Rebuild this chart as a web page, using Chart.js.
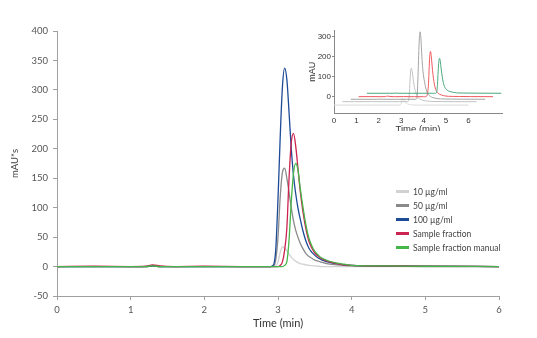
<!DOCTYPE html>
<html lang="en">
<head>
<meta charset="UTF-8">
<title>Chromatogram</title>
<script src="https://cdn.jsdelivr.net/npm/chart.js"></script>
<style>
    body { margin: 0; background: #fff; font-family: 'Lato', sans-serif; }
    .wrap { position: relative; width: 537px; height: 338px; }
    #main { position: absolute; left: 0; top: 0; }
    .inset { position: absolute; left: 300px; top: 20px; width: 210px; height: 111px; overflow: hidden; }
    .legend { position: absolute; left: 396px; top: 186px; font-size: 8.5px; color: #444; }
    .legend div { height: 14px; line-height: 12px; white-space: nowrap; }
    .legend span { display: inline-block; width: 13px; height: 3px; vertical-align: middle; margin-right: 4px; position: relative; top: -1px; }
</style>
</head>
<body>
<div class="wrap">
    <canvas id="main" width="537" height="338"></canvas>
    <div class="inset"><canvas id="ins" width="210" height="125"></canvas></div>
    <div class="legend" id="legend"></div>
</div>
<script>
// retention time (min)
const time = [0, 0.5, 1.0, 1.2, 1.3, 1.4, 1.6, 2.0, 2.5, 2.9,
    2.94, 2.97, 3.0, 3.03, 3.06, 3.09, 3.12, 3.15, 3.18, 3.21,
    3.24, 3.27, 3.3, 3.34, 3.38, 3.42, 3.46, 3.5, 3.55, 3.6,
    3.7, 3.8, 3.9, 4.0, 4.5, 5.0, 6.0];

const c10 = [0, 0, 0, 0, 0.5, 0, 0, 0, 0, 0,
    0, 2, 8, 24, 34, 31, 27, 21, 16, 12,
    9, 7, 5, 4, 3, 2, 1.5, 1, 0.5, 0,
    0, 0, 0, 0, 0, 0, 0];
const c50 = [0, 0, 0, 0, 1, 0, 0, 0, 0, 0,
    1, 12, 50, 118, 160, 167, 150, 126, 100, 78,
    62, 50, 40, 30, 22, 17, 14, 11, 9, 7,
    4, 3, 2, 1, 0.5, 0, 0];
const c100 = [0, 0, 0, 0, 1, 0, 0, 0, 0, 0,
    3, 30, 115, 220, 305, 337, 318, 262, 200, 155,
    124, 100, 82, 60, 43, 31, 24, 19, 14, 11,
    7, 5, 3, 2, 1, 0.5, 0];
const sample = [0, 0.5, 0, 0.5, 3, 1, 0, 0.5, 0, 0,
    0, 0, 0, 2, 8, 28, 65, 150, 210, 226,
    205, 168, 130, 92, 63, 43, 31, 23, 17, 13,
    8, 5, 3, 2, 1, 0.5, 0];
const manual = [0, 0, 0, 0, 1, 0, 0, 0, 0, 0,
    0, 0, 0, 0, 0, 2, 8, 45, 110, 158,
    175, 165, 135, 100, 70, 48, 35, 26, 19, 14,
    9, 6, 4, 2, 1, 0.5, 0];

const names = ['10 µg/ml', '50 µg/ml', '100 µg/ml', 'Sample fraction', 'Sample fraction manual'];
const series = [c10, c50, c100, sample, manual];
const colors = ['#d2d2d2', '#8a8a8a', '#1d4b95', '#cc2450', '#45b649'];

// inset: stacked (waterfall) view, offsets in minutes / mAU
const insetShiftX = [0, 0.37, 0.75, 1.1, 1.47];
const insetShiftY = [-42, -25, -13, 0, 17];
const insetColors = ['#dadada', '#c2c2c2', '#a4a4a4', '#ee5a5e', '#4aa97e'];

const yTicks = [-50, 0, 50, 100, 150, 200, 250, 300, 350, 400];
const xTicks = [0, 1, 2, 3, 4, 5, 6];
const insetYTicks = [0, 100, 200, 300];

const axisGrey = '#a0a0a0';

new Chart(document.getElementById('main'), {
    type: 'line',
    data: {
        datasets: series.map((s, i) => ({
            label: names[i],
            data: time.map((t, k) => ({ x: t, y: s[k] })),
            borderColor: colors[i],
            borderWidth: 1.3,
            pointRadius: 0,
            cubicInterpolationMode: 'monotone',
            order: series.length - i
        }))
    },
    options: {
        responsive: false,
        animation: false,
        layout: { padding: { left: 0, top: 31, right: 38, bottom: 0 } },
        plugins: { legend: { display: false }, tooltip: { enabled: false } },
        scales: {
            x: {
                type: 'linear', min: 0, max: 6,
                afterBuildTicks: s => { s.ticks = xTicks.map(v => ({ value: v })); },
                afterFit: s => { s.height = 42; },
                grid: { drawOnChartArea: false, tickLength: 4, color: axisGrey },
                border: { color: axisGrey },
                ticks: { padding: 4, color: '#555', font: { family: 'Lato', size: 9.5 } },
                title: { display: true, text: 'Time (min)', color: '#333', padding: { top: 0, bottom: 8 }, font: { family: 'Lato', size: 11 } }
            },
            y: {
                min: -50, max: 400,
                afterBuildTicks: s => { s.ticks = yTicks.map(v => ({ value: v })); },
                afterFit: s => { s.width = 57; },
                grid: { drawOnChartArea: false, tickLength: 4, color: axisGrey },
                border: { color: axisGrey },
                ticks: { padding: 5, color: '#555', font: { family: 'Lato', size: 9.5 } },
                title: { display: true, text: 'mAU*s', color: '#444', padding: { top: 9, bottom: 0 }, font: { family: 'Lato', size: 9.5 } }
            }
        }
    }
});

new Chart(document.getElementById('ins'), {
    type: 'line',
    data: {
        datasets: series.map((s, i) => ({
            data: time.map((t, k) => ({ x: t + insetShiftX[i], y: s[k] + insetShiftY[i] })),
            borderColor: insetColors[i],
            borderWidth: 1,
            pointRadius: 0,
            cubicInterpolationMode: 'monotone',
            order: series.length - i
        }))
    },
    options: {
        responsive: false,
        animation: false,
        layout: { padding: { left: 0, top: 10, right: 8, bottom: 0 } },
        plugins: { legend: { display: false }, tooltip: { enabled: false } },
        scales: {
            x: {
                type: 'linear', min: 0, max: 7.5,
                afterBuildTicks: s => { s.ticks = xTicks.map(v => ({ value: v })); },
                afterFit: s => { s.height = 31.7; },
                grid: { drawOnChartArea: false, drawTicks: false, color: '#888' },
                border: { color: '#888' },
                ticks: { padding: 3, color: '#333', font: { family: 'Liberation Sans', size: 8 } },
                title: { display: true, text: 'Time (min)', color: '#333', padding: { top: 0, bottom: 10 }, font: { family: 'Liberation Sans', size: 9.5 } }
            },
            y: {
                min: -83, max: 333,
                afterBuildTicks: s => { s.ticks = insetYTicks.map(v => ({ value: v })); },
                afterFit: s => { s.width = 34; },
                grid: { drawOnChartArea: false, tickLength: 2, color: '#888' },
                border: { color: '#888' },
                ticks: { padding: 1, color: '#333', font: { family: 'Liberation Sans', size: 8 } },
                title: { display: true, text: 'mAU', color: '#333', padding: { top: 7.5, bottom: 0 }, font: { family: 'Liberation Sans', size: 9 } }
            }
        }
    }
});

// legend
const leg = document.getElementById('legend');
names.forEach((n, i) => {
    const row = document.createElement('div');
    const sw = document.createElement('span');
    sw.style.background = colors[i];
    row.appendChild(sw);
    row.appendChild(document.createTextNode(n));
    leg.appendChild(row);
});
</script>
</body>
</html>
